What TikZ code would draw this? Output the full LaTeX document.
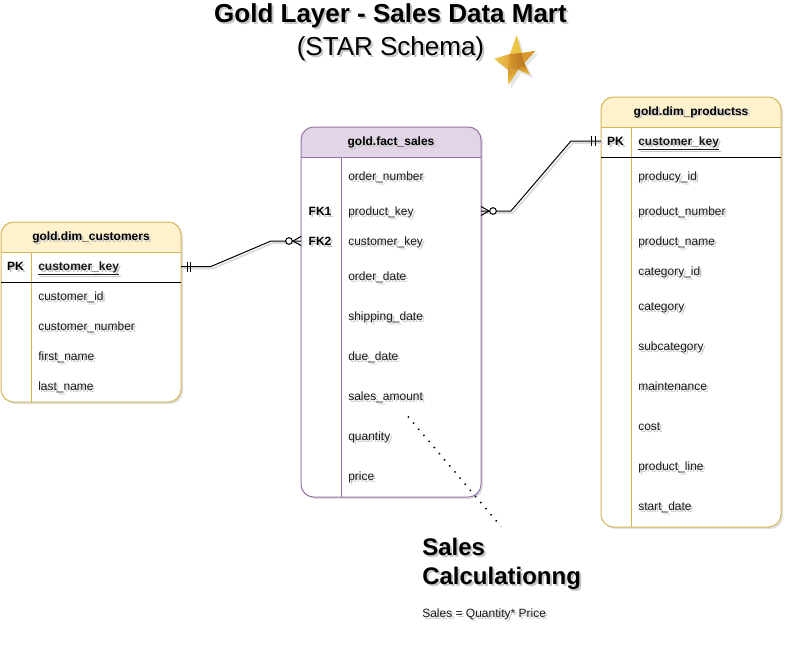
\documentclass[tikz,border=0pt]{standalone}
\usepackage{fontspec}
\setmainfont{Liberation Sans}
\usetikzlibrary{shadows,calc}
\definecolor{goldfill}{HTML}{FFF2CC}
\definecolor{goldline}{HTML}{D6B656}
\definecolor{purplefill}{HTML}{E1D5E7}
\definecolor{purpleline}{HTML}{9673A6}
\definecolor{stara}{HTML}{E9C23C}
\definecolor{starb}{HTML}{D9982C}
\definecolor{starc}{HTML}{B9741F}
\definecolor{stard}{HTML}{F0C850}
\newcommand{\shtext}[1]{\leavevmode\rlap{\kern1.5pt\raisebox{-1.5pt}{\textcolor{black!22}{#1}}}#1}
\tikzset{
  x=0.75pt,y=-0.75pt,
  softshadow/.style={drop shadow={shadow xshift=1.5pt,shadow yshift=-1.5pt,opacity=.12,fill=black}},
  panel/.style={rounded corners=9.5pt,line width=.75pt},
  rowtext/.style={font=\fontsize{9}{11}\selectfont,anchor=base west,inner sep=0pt,yshift=-3pt,text=black!90},
  keytext/.style={font=\fontsize{9}{11}\selectfont\bfseries,anchor=base,inner sep=0pt,yshift=-3pt},
  headtext/.style={font=\fontsize{9}{11}\selectfont\bfseries,anchor=base,inner sep=0pt,yshift=-3pt},
  link/.style={line width=.75pt,black,preaction={draw=black!14,line width=1.3pt,transform canvas={shift={(1.5pt,-1.5pt)}}}},
  tick/.style={line width=.75pt,black},
  smallo/.style={circle,draw=black,fill=white,line width=.75pt,minimum size=5pt,inner sep=0pt},
}
\begin{document}
\begin{tikzpicture}
\useasboundingbox (0,0) rectangle (792,660);
\fill[white] (0,0) rectangle (792,660);
% titles
\node[font=\fontsize{19.5}{24}\selectfont\bfseries,inner sep=0pt,anchor=base] (title) at (390.5,23) {\shtext{Gold Layer - Sales Data Mart}};
\node[font=\fontsize{19.5}{24}\selectfont,inner sep=0pt,anchor=base] (subtitle) at (390.5,56) {\shtext{(STAR Schema)}};
% star
\fill[black!10] (519,38.5) -- (524.5,56) -- (538.5,53.5) -- (527,66) -- (533,78) -- (521,73) -- (511,88.5) -- (511,73) -- (497,62) -- (513,57) -- cycle;
\shade[left color=stard,right color=stara] (516.7,35.3) -- (521.7,53) -- (517,60) -- (510,54) -- cycle;
\shade[left color=stard,right color=starb] (494.3,58.7) -- (510,54) -- (517,60) -- (508,69.7) -- cycle;
\shade[left color=starb,right color=starc] (510,54) -- (521.7,53) -- (524.3,63) -- (518,69.7) -- (508,69.7) -- cycle;
\fill[starb] (535.7,50.7) -- (521.7,53) -- (524.3,63) -- cycle;
\shade[top color=starc,bottom color=stara] (530,74.7) -- (524.3,63) -- (518,69.7) -- cycle;
\shade[top color=starb,bottom color=stard] (508.3,85.3) -- (508,69.7) -- (518,69.7) -- cycle;
% fact
\path[panel,softshadow,fill=white] (301,127) rectangle (481,497);
\begin{scope}
\clip (301,127) rectangle (481,157);
\fill[purplefill,rounded corners=9.5pt] (301,127) rectangle (481,180);
\end{scope}
\node[panel,draw=purpleline,minimum width=135pt,minimum height=277.5pt,inner sep=0pt] (fact) at (391,312) {};
\draw[purpleline,line width=.75pt] (301,157) -- (481,157) (341,157) -- (341,497);
\node[headtext] (facthead) at (391,141) {\shtext{gold.fact\_sales}};
\node[rowtext] (f1) at (348,176) {\shtext{order\_number}};
\node[keytext] (fk1) at (320,211) {\shtext{FK1}};
\node[rowtext] (f2) at (348,211) {\shtext{product\_key}};
\node[keytext] (fk2) at (320,241) {\shtext{FK2}};
\node[rowtext] (f3) at (348,241) {\shtext{customer\_key}};
\node[rowtext] (f4) at (348,276) {\shtext{order\_date}};
\node[rowtext] (f5) at (348,316) {\shtext{shipping\_date}};
\node[rowtext] (f6) at (348,356) {\shtext{due\_date}};
\node[rowtext] (f7) at (348,396) {\shtext{sales\_amount}};
\node[rowtext] (f8) at (348,436) {\shtext{quantity}};
\node[rowtext] (f9) at (348,476) {\shtext{price}};
% customers
\path[panel,softshadow,fill=white] (1,222) rectangle (181,402);
\begin{scope}
\clip (1,222) rectangle (181,252);
\fill[goldfill,rounded corners=9.5pt] (1,222) rectangle (181,275);
\end{scope}
\node[panel,draw=goldline,minimum width=135pt,minimum height=135pt,inner sep=0pt] (cust) at (91,312) {};
\draw[goldline,line width=.75pt] (1,252) -- (181,252) (31,252) -- (31,402);
\draw[black,line width=.75pt] (1,282) -- (181,282);
\node[headtext] (custhead) at (91,236) {\shtext{gold.dim\_customers}};
\node[keytext] (cpk) at (15.5,266) {\shtext{PK}};
\node[rowtext,font=\fontsize{9}{11}\selectfont\bfseries] (c0) at (38,266) {\shtext{\underline{customer\_key}}};
\node[rowtext] (c1) at (38,296) {\shtext{customer\_id}};
\node[rowtext] (c2) at (38,326) {\shtext{customer\_number}};
\node[rowtext] (c3) at (38,356) {\shtext{first\_name}};
\node[rowtext] (c4) at (38,386) {\shtext{last\_name}};
% products
\path[panel,softshadow,fill=white] (601,97) rectangle (781,527);
\begin{scope}
\clip (601,97) rectangle (781,127);
\fill[goldfill,rounded corners=9.5pt] (601,97) rectangle (781,150);
\end{scope}
\node[panel,draw=goldline,minimum width=135pt,minimum height=322.5pt,inner sep=0pt] (prod) at (691,312) {};
\draw[goldline,line width=.75pt] (601,127) -- (781,127) (631,127) -- (631,527);
\draw[black,line width=.75pt] (601,157) -- (781,157);
\node[headtext] (prodhead) at (691,111) {\shtext{gold.dim\_productss}};
\node[keytext] (ppk) at (615.5,141) {\shtext{PK}};
\node[rowtext,font=\fontsize{9}{11}\selectfont\bfseries] (p0) at (638,141) {\shtext{\underline{customer\_key}}};
\node[rowtext] (p1) at (638,176) {\shtext{producy\_id}};
\node[rowtext] (p2) at (638,211) {\shtext{product\_number}};
\node[rowtext] (p3) at (638,241) {\shtext{product\_name}};
\node[rowtext] (p4) at (638,271) {\shtext{category\_id}};
\node[rowtext] (p5) at (638,306) {\shtext{category}};
\node[rowtext] (p6) at (638,346) {\shtext{subcategory}};
\node[rowtext] (p7) at (638,386) {\shtext{maintenance}};
\node[rowtext] (p8) at (638,426) {\shtext{cost}};
\node[rowtext] (p9) at (638,466) {\shtext{product\_line}};
\node[rowtext] (p10) at (638,506) {\shtext{start\_date}};
% connector anchors
\coordinate (custport) at (181,266.5);
\coordinate (factportL) at (301,241);
\coordinate (factportR) at (481,211);
\coordinate (prodport) at (601,141);
% customers -> fact
\draw[link] (custport) -- (211,266.5) -- (271,241) -- (factportL);
\draw[tick] ($(custport)+(6,-5)$) -- +(0,10) ($(custport)+(9.5,-5)$) -- +(0,10);
\draw[tick] ($(factportL)+(-8,0)$) -- ($(factportL)+(0,-4.5)$) ($(factportL)+(-8,0)$) -- ($(factportL)+(0,4.5)$);
\node[smallo] (ol) at ($(factportL)+(-12,0)$) {};
% fact -> products
\draw[link] (factportR) -- (511,211) -- (571,141) -- (prodport);
\draw[tick] ($(factportR)+(8,0)$) -- ($(factportR)+(0,-4.5)$) ($(factportR)+(8,0)$) -- ($(factportR)+(0,4.5)$);
\node[smallo] (or) at ($(factportR)+(12,0)$) {};
\draw[tick] ($(prodport)+(-9.5,-5)$) -- +(0,10) ($(prodport)+(-6,-5)$) -- +(0,10);
% callout
\coordinate (dotA) at (408,416.5);
\coordinate (dotB) at (501,526.5);
\draw[black,line width=1.2pt,dash pattern=on 1pt off 5pt] (dotA) -- (dotB);
\node[font=\fontsize{18}{22}\selectfont\bfseries,anchor=north west,inner sep=0pt,align=left] (calc) at (422,537.5) {\shtext{Sales}\\\shtext{Calculationng}};
\node[rowtext] (calcf) at (422,613.5) {\shtext{Sales = Quantity* Price}};
\end{tikzpicture}
\end{document}
